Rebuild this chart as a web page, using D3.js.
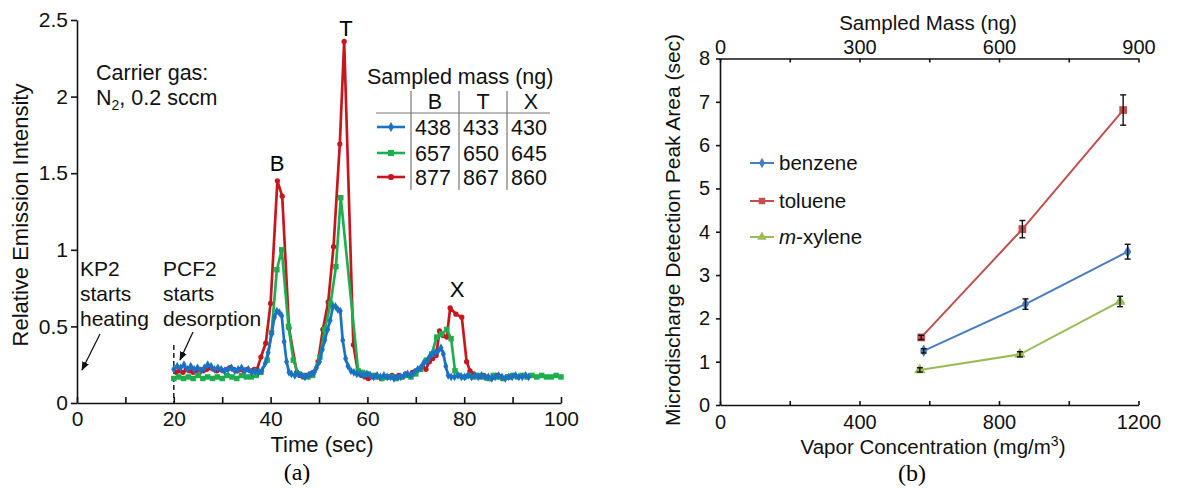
<!DOCTYPE html>
<html>
<head>
<meta charset="utf-8">
<script src="https://cdn.jsdelivr.net/npm/d3@7"></script>
<style>
body { margin: 0; background: #fff; }
svg { font-family: "Liberation Sans", Arial, sans-serif; }
.axis text { fill: #111; font-family: "Liberation Sans", Arial, sans-serif; }
.axis path, .axis line { stroke: #111; stroke-width: 1.6; }
</style>
</head>
<body>
<script>
// ---- panel (a): emission intensity vs time, [sec, intensity]
var blueSeries = [[20,0.22],[20.7,0.24],[21.4,0.23],[22.1,0.25],[22.8,0.22],[23.5,0.24],[24.2,0.22],[24.9,0.23],[25.6,0.21],[26.3,0.23],[27,0.25],[27.7,0.24],[28.4,0.22],[29.1,0.23],[29.8,0.22],[30.5,0.21],[31.2,0.22],[31.9,0.23],[32.6,0.21],[33.3,0.22],[34,0.23],[34.7,0.21],[35.4,0.22],[36.1,0.2],[36.8,0.21],[37.5,0.2],[38.2,0.21],[38.9,0.26],[39.5,0.33],[40.2,0.45],[40.8,0.56],[41.3,0.6],[41.8,0.59],[42.3,0.57],[42.8,0.4],[43.3,0.27],[43.8,0.2],[44.3,0.19],[45,0.18],[45.7,0.19],[46.4,0.18],[47.1,0.17],[47.8,0.18],[48.4,0.19],[49,0.2],[49.5,0.23],[50.1,0.27],[50.7,0.35],[51.2,0.41],[51.8,0.48],[52.3,0.54],[52.9,0.63],[53.4,0.63],[53.9,0.61],[54.4,0.6],[54.9,0.41],[55.5,0.29],[56,0.24],[56.6,0.21],[57.2,0.2],[57.8,0.19],[58.5,0.19],[59.2,0.18],[59.9,0.19],[60.6,0.18],[61.3,0.17],[62,0.18],[62.7,0.17],[63.4,0.18],[64.1,0.17],[64.8,0.17],[65.5,0.16],[66.2,0.17],[66.9,0.17],[67.6,0.18],[68.3,0.19],[69,0.18],[69.7,0.2],[70.4,0.22],[71,0.23],[71.6,0.26],[72.2,0.27],[72.8,0.3],[73.4,0.32],[74,0.33],[74.6,0.34],[75.2,0.36],[75.7,0.32],[76.2,0.24],[76.7,0.18],[77.3,0.17],[78,0.17],[78.7,0.18],[79.4,0.17],[80.1,0.17],[80.8,0.18],[81.5,0.17],[82.2,0.18],[82.9,0.17],[83.6,0.18],[84.3,0.17],[85,0.17],[85.7,0.16],[86.4,0.17],[87.1,0.18],[87.8,0.17],[88.5,0.16],[89.2,0.17],[89.9,0.17],[90.6,0.18],[91.3,0.17],[92,0.17],[92.7,0.18],[93.3,0.17]];
var greenSeries = [[20,0.16],[21,0.17],[22,0.16],[23,0.17],[24,0.16],[25,0.18],[26,0.16],[27,0.17],[28,0.16],[29,0.17],[30,0.16],[31,0.18],[32,0.17],[33,0.16],[34,0.18],[35,0.17],[36,0.17],[37,0.18],[38,0.2],[39.3,0.28],[40.2,0.46],[41.3,0.87],[42.3,1.0],[43.7,0.5],[44.7,0.28],[45.7,0.19],[46.7,0.18],[47.7,0.17],[48.7,0.18],[50.2,0.3],[51.2,0.48],[52.4,0.65],[53.5,0.89],[54.5,1.34],[58.1,0.21],[59,0.2],[60,0.19],[61,0.18],[62,0.17],[63,0.16],[64,0.17],[65,0.17],[66,0.16],[67,0.17],[68,0.18],[69,0.17],[70,0.19],[71,0.22],[72.2,0.28],[73.3,0.32],[74.3,0.43],[75.3,0.45],[76.4,0.48],[77.3,0.42],[78.1,0.21],[79,0.18],[80,0.17],[81,0.18],[82,0.17],[83,0.18],[84,0.17],[85,0.16],[86,0.18],[87,0.17],[88,0.16],[89,0.17],[90,0.18],[91,0.17],[92,0.18],[93,0.17],[94,0.18],[95,0.17],[96,0.18],[97,0.17],[98,0.17],[99,0.18],[100,0.17]];
var redSeries = [[20.5,0.2],[21.2,0.21],[21.9,0.2],[22.6,0.22],[23.3,0.21],[24,0.2],[24.7,0.21],[25.4,0.22],[26.1,0.21],[26.8,0.22],[27.5,0.23],[28.2,0.22],[28.9,0.21],[29.6,0.22],[30.3,0.21],[31,0.22],[31.7,0.23],[32.4,0.22],[33.1,0.21],[33.8,0.22],[34.5,0.21],[35.2,0.22],[35.9,0.21],[36.6,0.22],[37.2,0.22],[38,0.3],[39,0.39],[40,0.65],[41.4,1.45],[42.4,1.35],[43.8,0.49],[45.4,0.2],[46.1,0.18],[46.8,0.17],[47.5,0.18],[48.2,0.19],[48.9,0.2],[49.8,0.27],[50.8,0.48],[51.9,0.66],[53,1.02],[54.3,1.69],[55.2,2.36],[57.1,0.38],[58.1,0.19],[58.8,0.18],[59.5,0.17],[60.2,0.16],[60.9,0.17],[61.6,0.18],[62.3,0.17],[63,0.16],[63.7,0.17],[64.4,0.17],[65.1,0.18],[65.8,0.17],[66.5,0.18],[67.2,0.17],[67.9,0.19],[68.6,0.18],[69.3,0.2],[70,0.21],[70.7,0.22],[71.4,0.24],[72.1,0.22],[72.8,0.27],[73.5,0.29],[74.2,0.31],[74.9,0.47],[75.6,0.44],[76.4,0.43],[77.1,0.62],[78.3,0.58],[79.5,0.56],[80.5,0.27],[81.2,0.21],[81.9,0.19],[82.6,0.18],[83.3,0.17],[84,0.18],[84.7,0.17],[85.4,0.16],[86.1,0.17],[86.8,0.18],[87.5,0.17],[88.2,0.16],[88.9,0.17],[89.6,0.17]];

var tableCols = ["B", "T", "X"];
var tableMass = [[438, 433, 430], [657, 650, 645], [877, 867, 860]];
var timeTicks = [0, 20, 40, 60, 80, 100];
var intensityTicks = [0, 0.5, 1, 1.5, 2, 2.5];

// ---- panel (b): peak area vs vapor concentration
var chemNames = ["benzene", "toluene", "xylene"];
var benzeneConc = [584, 876, 1169], benzeneArea = [1.25, 2.33, 3.54], benzeneErr = [0.05, 0.12, 0.17];
var tolueneConc = [577, 867, 1156], tolueneArea = [1.56, 4.06, 6.81], tolueneErr = [0.05, 0.2, 0.35];
var xyleneConc = [573, 860, 1147], xyleneArea = [0.81, 1.17, 2.39], xyleneErr = [0.05, 0.06, 0.12];
var concTicks = [0, 400, 800, 1200];
var massTicks = [0, 300, 600, 900];

var width = 1182, height = 488;
var svg = d3.select("body").append("svg").attr("width", width).attr("height", height);

var BLUE = "#1b72c4", GREEN = "#1fae4e", RED = "#c8161d";

// ================= panel (a) =================
var x = d3.scaleLinear().domain([0, 100]).range([77, 561]);
var y = d3.scaleLinear().domain([0, 2.5]).range([403, 20]);

svg.append("g").attr("class", "axis").attr("transform", "translate(0,403)")
    .call(d3.axisBottom(x).tickValues(d3.range(0, 101, 10)).tickSize(-6).tickSizeOuter(0).tickPadding(8)
        .tickFormat(d => timeTicks.indexOf(d) >= 0 ? d : ""))
    .attr("font-size", 21);
svg.append("g").attr("class", "axis").attr("transform", "translate(77,0)")
    .call(d3.axisLeft(y).tickValues(intensityTicks).tickSize(6).tickSizeOuter(0).tickPadding(3)
        .tickFormat(d => d))
    .attr("font-size", 21);

svg.append("text").attr("transform", "translate(28,215) rotate(-90)").attr("text-anchor", "middle")
    .attr("font-size", 22).attr("fill", "#111").text("Relative Emission Intensity");
svg.append("text").attr("x", 322).attr("y", 452).attr("text-anchor", "middle")
    .attr("font-size", 22).attr("fill", "#111").text("Time (sec)");
svg.append("text").attr("x", 297).attr("y", 480).attr("text-anchor", "middle")
    .attr("font-family", "'Liberation Serif', 'Times New Roman', serif").attr("font-size", 24).text("(a)");

// dashed start line at 20 s
svg.append("line").attr("x1", x(20)).attr("x2", x(20)).attr("y1", 345).attr("y2", 403)
    .attr("stroke", "#222").attr("stroke-width", 1.5).attr("stroke-dasharray", "5,3");

var line = d3.line().x(d => x(d[0])).y(d => y(d[1]));
var seriesA = [
    {data: redSeries, color: RED, sym: d3.symbolCircle, size: 22},
    {data: greenSeries, color: GREEN, sym: d3.symbolSquare, size: 30},
    {data: blueSeries, color: BLUE, sym: d3.symbolDiamond, size: 22}
];
seriesA.forEach(function (s) {
    svg.append("path").attr("d", line(s.data)).attr("fill", "none")
        .attr("stroke", s.color).attr("stroke-width", 2.7).attr("stroke-linejoin", "round");
    svg.append("g").selectAll("path").data(s.data).enter().append("path")
        .attr("transform", d => "translate(" + x(d[0]) + "," + y(d[1]) + ")")
        .attr("d", d3.symbol().type(s.sym).size(s.size)).attr("fill", s.color);
});

// annotations
function lines(tx, ty, arr, size) {
    var t = svg.append("text").attr("font-size", size).attr("fill", "#111");
    arr.forEach(function (s, i) {
        t.append("tspan").attr("x", tx).attr("y", ty + i * 25).text(s);
    });
    return t;
}
lines(96, 80, ["Carrier gas:"], 21.5);
var n2 = svg.append("text").attr("x", 96).attr("y", 105).attr("font-size", 21.5).attr("fill", "#111");
n2.append("tspan").text("N");
n2.append("tspan").attr("font-size", 14).attr("dy", 5).text("2");
n2.append("tspan").attr("dy", -5).text(", 0.2 sccm");
lines(80, 276, ["KP2", "starts", "heating"], 21);
lines(163, 276, ["PCF2", "starts", "desorption"], 21);

svg.append("defs").append("marker").attr("id", "arr").attr("viewBox", "0 0 10 10")
    .attr("refX", 9).attr("refY", 5).attr("markerWidth", 7).attr("markerHeight", 7).attr("orient", "auto")
    .append("path").attr("d", "M0,1 L10,5 L0,9 Z").attr("fill", "#111");
svg.append("line").attr("x1", 100).attr("y1", 334).attr("x2", 82).attr("y2", 370)
    .attr("stroke", "#111").attr("stroke-width", 1.3).attr("marker-end", "url(#arr)");
svg.append("line").attr("x1", 193).attr("y1", 332).attr("x2", 180).attr("y2", 360)
    .attr("stroke", "#111").attr("stroke-width", 1.3).attr("marker-end", "url(#arr)");

svg.append("text").attr("x", 277).attr("y", 171).attr("text-anchor", "middle").attr("font-size", 22).text("B");
svg.append("text").attr("x", 346).attr("y", 36).attr("text-anchor", "middle").attr("font-size", 22).text("T");
svg.append("text").attr("x", 457).attr("y", 297).attr("text-anchor", "middle").attr("font-size", 22).text("X");

// sampled mass table
svg.append("text").attr("x", 367).attr("y", 84).attr("font-size", 21.5).attr("fill", "#111").text("Sampled mass (ng)");
var colX = [411, 459, 507];
colX.forEach(function (cx) {
    svg.append("line").attr("x1", cx).attr("x2", cx).attr("y1", 91).attr("y2", 190)
        .attr("stroke", "#777").attr("stroke-width", 1.2);
});
svg.append("line").attr("x1", 376).attr("x2", 550).attr("y1", 113).attr("y2", 113)
    .attr("stroke", "#777").attr("stroke-width", 1.2);
tableCols.forEach(function (c, i) {
    svg.append("text").attr("x", colX[i] + 24).attr("y", 109).attr("text-anchor", "middle")
        .attr("font-size", 21.5).attr("fill", "#111").text(c);
});
var rowY = [127, 153, 177];
var rowStyle = [seriesA[2], seriesA[1], seriesA[0]];
tableMass.forEach(function (row, r) {
    svg.append("line").attr("x1", 377).attr("x2", 405).attr("y1", rowY[r]).attr("y2", rowY[r])
        .attr("stroke", rowStyle[r].color).attr("stroke-width", 2.6);
    svg.append("path").attr("transform", "translate(391," + rowY[r] + ")")
        .attr("d", d3.symbol().type(rowStyle[r].sym).size(rowStyle[r].size + 8)).attr("fill", rowStyle[r].color);
    row.forEach(function (v, i) {
        svg.append("text").attr("x", colX[i] + 4).attr("y", rowY[r] + 8)
            .attr("font-size", 21.5).attr("fill", "#111").text(v);
    });
});

// ================= panel (b) =================
var xc = d3.scaleLinear().domain([0, 1200]).range([720, 1138.5]);
var xm = d3.scaleLinear().domain([0, 900]).range([720, 1138.5]);
var yr = d3.scaleLinear().domain([0, 8]).range([405, 58.5]);

svg.append("g").attr("class", "axis").attr("transform", "translate(0,405)")
    .call(d3.axisBottom(xc).tickValues(d3.range(0, 1201, 200)).tickSize(-4).tickSizeOuter(0).tickPadding(10)
        .tickFormat(d => concTicks.indexOf(d) >= 0 ? d : ""))
    .attr("font-size", 20);
svg.append("g").attr("class", "axis").attr("transform", "translate(0,58.5)")
    .call(d3.axisTop(xm).tickValues(d3.range(0, 901, 150)).tickSize(-4).tickSizeOuter(0).tickPadding(5)
        .tickFormat(d => massTicks.indexOf(d) >= 0 ? d : ""))
    .attr("font-size", 20);
svg.append("g").attr("class", "axis").attr("transform", "translate(720,0)")
    .call(d3.axisLeft(yr).ticks(8).tickSize(4).tickSizeOuter(0).tickPadding(6))
    .attr("font-size", 20);

svg.append("text").attr("transform", "translate(680,230) rotate(-90)").attr("text-anchor", "middle")
    .attr("font-size", 21).attr("fill", "#111").text("Microdischarge Detection Peak Area (sec)");
svg.append("text").attr("x", 928).attr("y", 30).attr("text-anchor", "middle")
    .attr("font-size", 20.5).attr("fill", "#111").text("Sampled Mass (ng)");
var xl = svg.append("text").attr("x", 933).attr("y", 454).attr("text-anchor", "middle")
    .attr("font-size", 20.5).attr("fill", "#111");
xl.append("tspan").text("Vapor Concentration (mg/m");
xl.append("tspan").attr("font-size", 14).attr("dy", -8).text("3");
xl.append("tspan").attr("dy", 8).text(")");
svg.append("text").attr("x", 912).attr("y", 481).attr("text-anchor", "middle")
    .attr("font-family", "'Liberation Serif', 'Times New Roman', serif").attr("font-size", 24).text("(b)");

var seriesB = [
    {conc: tolueneConc, area: tolueneArea, err: tolueneErr, color: "#c0504d", sym: d3.symbolSquare, size: 60},
    {conc: benzeneConc, area: benzeneArea, err: benzeneErr, color: "#4a7ebb", sym: d3.symbolDiamond, size: 45},
    {conc: xyleneConc, area: xyleneArea, err: xyleneErr, color: "#9bbb59", sym: d3.symbolTriangle, size: 55}
];
seriesB.forEach(function (s) {
    var pts = s.conc.map((c, i) => [c, s.area[i], s.err[i]]);
    svg.append("path").attr("d", d3.line().x(d => xc(d[0])).y(d => yr(d[1]))(pts))
        .attr("fill", "none").attr("stroke", s.color).attr("stroke-width", 2);
    svg.append("g").selectAll("path").data(pts).enter().append("path")
        .attr("transform", d => "translate(" + xc(d[0]) + "," + yr(d[1]) + ")")
        .attr("d", d3.symbol().type(s.sym).size(s.size)).attr("fill", s.color);
    var eb = svg.append("g").selectAll("g").data(pts).enter().append("g")
        .attr("stroke", "#111").attr("stroke-width", 1.4);
    eb.append("line").attr("x1", d => xc(d[0])).attr("x2", d => xc(d[0]))
        .attr("y1", d => yr(d[1] - d[2])).attr("y2", d => yr(d[1] + d[2]));
    eb.append("line").attr("x1", d => xc(d[0]) - 3).attr("x2", d => xc(d[0]) + 3)
        .attr("y1", d => yr(d[1] + d[2])).attr("y2", d => yr(d[1] + d[2]));
    eb.append("line").attr("x1", d => xc(d[0]) - 3).attr("x2", d => xc(d[0]) + 3)
        .attr("y1", d => yr(d[1] - d[2])).attr("y2", d => yr(d[1] - d[2]));
});

// legend
var legY = [163, 201, 237];
var legOrder = [seriesB[1], seriesB[0], seriesB[2]];
legOrder.forEach(function (s, i) {
    svg.append("line").attr("x1", 750).attr("x2", 774).attr("y1", legY[i]).attr("y2", legY[i])
        .attr("stroke", s.color).attr("stroke-width", 2);
    svg.append("path").attr("transform", "translate(762," + legY[i] + ")")
        .attr("d", d3.symbol().type(s.sym).size(s.size * 0.7)).attr("fill", s.color);
    var t = svg.append("text").attr("x", 779).attr("y", legY[i] + 7).attr("font-size", 20.5).attr("fill", "#111");
    if (chemNames[i] === "xylene") {
        t.append("tspan").attr("font-style", "italic").text("m");
        t.append("tspan").text("-xylene");
    } else t.text(chemNames[i]);
});
</script>
</body>
</html>
